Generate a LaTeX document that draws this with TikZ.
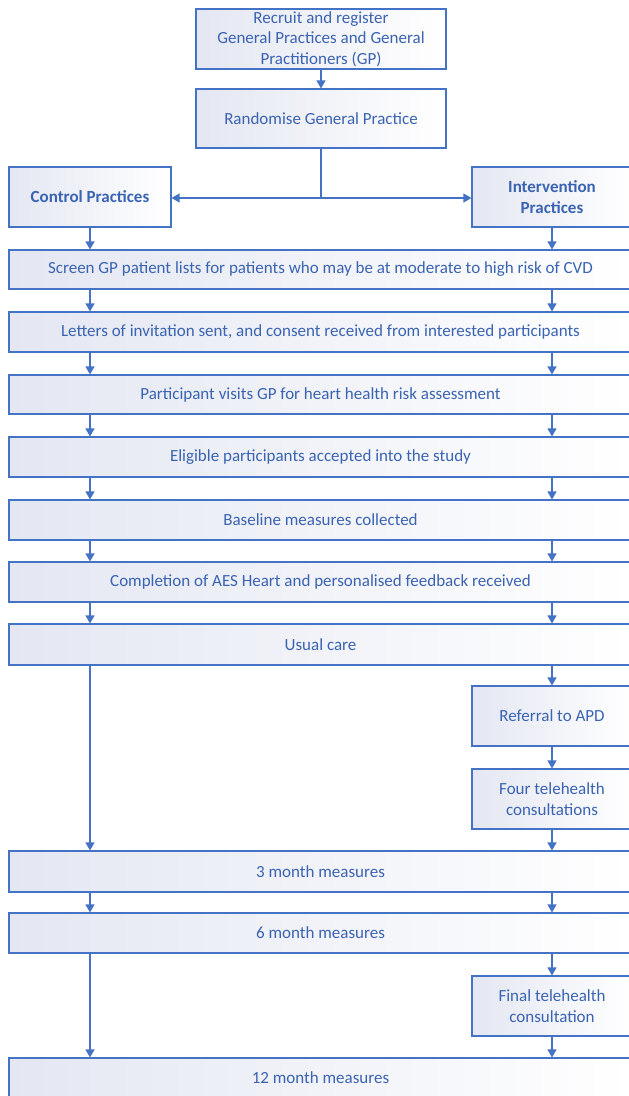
\documentclass[tikz,border=0pt]{standalone}
\usepackage{fontspec}
\setmainfont{Carlito}
\usetikzlibrary{arrows.meta}
\definecolor{bline}{HTML}{4472C4}
\definecolor{btext}{HTML}{3A63B2}
\definecolor{bfill}{HTML}{E4E7F2}
\begin{document}
\begin{tikzpicture}[x=1pt,y=-1pt,
  box/.style={draw=bline, line width=1.1pt, left color=bfill, right color=white,
    text=btext, font=\fontsize{17}{20.5}\selectfont, inner sep=0pt, align=center},
  wide/.style={box, minimum width=623pt, minimum height=40pt},
  side/.style={box, minimum width=160pt, minimum height=60pt},
  conn/.style={draw=bline, line width=1.2pt},
  arr/.style={conn, -{Triangle[width=9pt,length=8pt]}}]
\useasboundingbox (0,0) rectangle (629,1096);
\clip (0,0) rectangle (629,1096);
\fill[white] (0,0) rectangle (629,1096);
\coordinate (xl) at (90,0);
\coordinate (xr) at (552,0);
\coordinate (j) at (321,198);

\node[box, minimum width=250pt, minimum height=60pt] (recruit) at (321,39)
  {Recruit and register\\General Practices and General\\Practitioners (GP)};
\node[box, minimum width=250pt, minimum height=59pt] (random) at (321,118.5)
  {Randomise General Practice};
\node[box, minimum width=162pt, minimum height=60pt, font=\fontsize{17}{20.5}\selectfont\bfseries] (control) at (90,197)
  {Control Practices};
\node[side, font=\fontsize{17}{20.5}\selectfont\bfseries] (interv) at (552,197)
  {Intervention\\Practices};

\node[wide, minimum height=39pt] (screen) at (320.5,269.5)
  {Screen GP patient lists for patients who may be at moderate to high risk of CVD};
\node[wide] (letters) at (320.5,332)
  {Letters of invitation sent, and consent received from interested participants};
\node[wide, minimum height=39pt] (particip) at (320.5,394.5)
  {Participant visits GP for heart health risk assessment};
\node[wide] (eligible) at (320.5,457)
  {Eligible participants accepted into the study};
\node[wide] (baseline) at (320.5,520)
  {Baseline measures collected};
\node[wide] (complete) at (320.5,582)
  {Completion of AES Heart and personalised feedback received};
\node[wide, minimum height=41pt] (usual) at (320.5,644.5)
  {Usual care};
\node[side] (referral) at (552,716) {Referral to APD};
\node[side] (four) at (552,799) {Four telehealth\\consultations};
\node[wide, minimum height=41pt] (m3) at (320.5,871.5) {3 month measures};
\node[wide] (m6) at (320.5,933) {6 month measures};
\node[side] (final) at (552,1006) {Final telehealth\\consultation};
\node[wide] (m12) at (320.5,1078) {12 month measures};

\draw[arr] (recruit) -- (random);
\draw[conn] (random.south) -- (j);
\draw[arr] (j) -- (j -| control.east);
\draw[arr] (j) -- (j -| interv.west);
\draw[arr] (control.south) -- (screen.north -| control.south);
\draw[arr] (interv.south) -- (screen.north -| interv.south);
\foreach \a/\b in {screen/letters, letters/particip, particip/eligible,
  eligible/baseline, baseline/complete, complete/usual, m3/m6} {
  \draw[arr] (\a.south -| xl) -- (\b.north -| xl);
  \draw[arr] (\a.south -| xr) -- (\b.north -| xr);
}
\draw[arr] (usual.south -| xl) -- (m3.north -| xl);
\draw[arr] (usual.south -| xr) -- (referral.north);
\draw[arr] (referral) -- (four);
\draw[arr] (four.south) -- (m3.north -| xr);
\draw[arr] (m6.south -| xl) -- (m12.north -| xl);
\draw[arr] (m6.south -| xr) -- (final.north);
\draw[arr] (final.south) -- (m12.north -| xr);
\end{tikzpicture}
\end{document}
